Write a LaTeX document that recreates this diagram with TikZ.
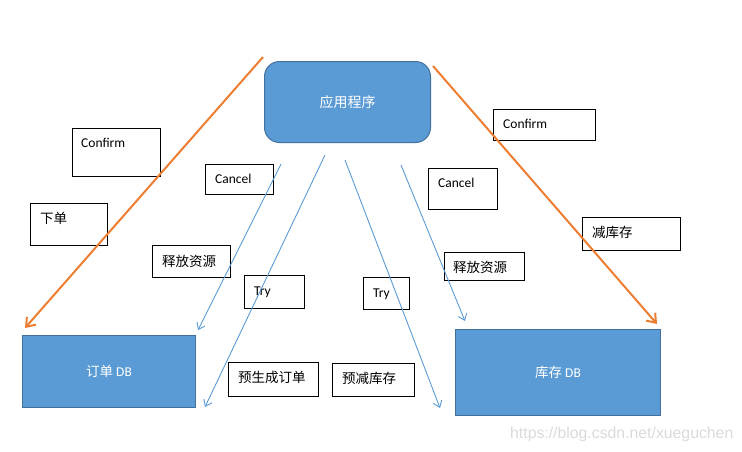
\documentclass[tikz,border=0pt]{standalone}
\usepackage{fontspec}
\setmainfont{Carlito}
\newfontfamily\cjk{Noto Sans CJK SC}
\newfontfamily\wmfont{Liberation Sans}
\usetikzlibrary{arrows.meta,calc}
\definecolor{dbblue}{HTML}{5B9BD5}
\definecolor{dbedge}{HTML}{41719C}
\definecolor{linkorange}{HTML}{ED7D31}
\definecolor{wmgray}{HTML}{DADADA}
\begin{document}
\begin{tikzpicture}[x=1pt,y=-1pt,
  tagbox/.style={draw=black,line width=0.9pt,fill=white,inner sep=0pt,anchor=north west},
  tagtext/.style={inner sep=0pt,anchor=base west,font=\fontsize{13.5}{16}\selectfont},
  bluebox/.style={draw=dbedge,line width=1pt,fill=dbblue,inner sep=0pt,anchor=north west,
    text=white,font=\fontsize{13.5}{16}\selectfont},
  orangelink/.style={draw=linkorange,line width=2pt,-{Straight Barb[length=8pt,width=12pt,line width=2pt]}},
  bluelink/.style={draw=dbblue,line width=0.9pt,-{Straight Barb[length=6pt,width=9pt,line width=0.9pt]}}
]
\useasboundingbox (0,0) rectangle (742,451);

% application
\node[bluebox,rounded corners=15pt,minimum width=166pt,minimum height=81pt,
  font=\fontsize{14}{16}\selectfont] (app) at (264,61) {\cjk 应用程序};

% databases
\node[bluebox,minimum width=173pt,minimum height=72pt] (orderdb) at (22,335) {{\cjk 订单} DB};
\node[bluebox,minimum width=205pt,minimum height=86pt] (stockdb) at (455,329) {{\cjk 库存} DB};

% label boxes
\node[tagbox,minimum width=88pt,minimum height=48pt] (cfL) at (72,128) {};
\node[tagtext] (cfLt) at ($(cfL.north west)+(9,19.5)$) {Confirm};

\node[tagbox,minimum width=77pt,minimum height=42pt] (xd) at (30,203) {};
\node[tagtext] (xdt) at ($(xd.north west)+(10,20)$) {\cjk 下单};

\node[tagbox,minimum width=68pt,minimum height=30pt] (caL) at (205,164) {};
\node[tagtext] (caLt) at ($(caL.north west)+(10,19.5)$) {Cancel};

\node[tagbox,minimum width=78pt,minimum height=32pt] (sfL) at (152,245) {};
\node[tagtext] (sfLt) at ($(sfL.north west)+(10,21)$) {\cjk 释放资源};

\node[tagbox,minimum width=60pt,minimum height=33pt] (tryL) at (244,275) {};
\node[tagtext] (tryLt) at ($(tryL.north west)+(10,20.5)$) {Try};

\node[tagbox,minimum width=90pt,minimum height=34pt] (ysc) at (228,362) {};
\node[tagtext] (ysct) at ($(ysc.north west)+(10,20)$) {\cjk 预生成订单};

\node[tagbox,minimum width=46pt,minimum height=32pt] (tryR) at (363,277) {};
\node[tagtext] (tryRt) at ($(tryR.north west)+(10,20.5)$) {Try};

\node[tagbox,minimum width=82pt,minimum height=33pt] (yjk) at (332,363) {};
\node[tagtext] (yjkt) at ($(yjk.north west)+(10,20)$) {\cjk 预减库存};

\node[tagbox,minimum width=102pt,minimum height=31pt] (cfR) at (493,109) {};
\node[tagtext] (cfRt) at ($(cfR.north west)+(10,19.5)$) {Confirm};

\node[tagbox,minimum width=69pt,minimum height=41pt] (caR) at (428,168) {};
\node[tagtext] (caRt) at ($(caR.north west)+(10,19.5)$) {Cancel};

\node[tagbox,minimum width=80pt,minimum height=28pt] (sfR) at (444,252) {};
\node[tagtext] (sfRt) at ($(sfR.north west)+(9,20)$) {\cjk 释放资源};

\node[tagbox,minimum width=98pt,minimum height=33pt] (jkc) at (582,217) {};
\node[tagtext] (jkct) at ($(jkc.north west)+(10,20)$) {\cjk 减库存};

% connector end points
\coordinate (oLs) at (263,57);
\coordinate (oLe) at (25,328);
\coordinate (oRs) at (433,66);
\coordinate (oRe) at (657,324);
\coordinate (b1s) at (281,164);
\coordinate (b1e) at (198,330);
\coordinate (b2s) at (325,155);
\coordinate (b2e) at (205,407);
\coordinate (b3s) at (345,160);
\coordinate (b3e) at (440,408);
\coordinate (b4s) at (401,165);
\coordinate (b4e) at (465,321);

% connectors
\draw[orangelink] (oLs) -- (oLe);
\draw[orangelink] (oRs) -- (oRe);
\draw[bluelink] (b1s) -- (b1e);
\draw[bluelink] (b2s) -- (b2e);
\draw[bluelink] (b3s) -- (b3e);
\draw[bluelink] (b4s) -- (b4e);

% watermark
\node[inner sep=0pt,anchor=base west,text=wmgray,font=\wmfont\fontsize{15.8}{18}\selectfont] (wm) at (510,438) {https://blog.csdn.net/xueguchen};
\end{tikzpicture}
\end{document}
